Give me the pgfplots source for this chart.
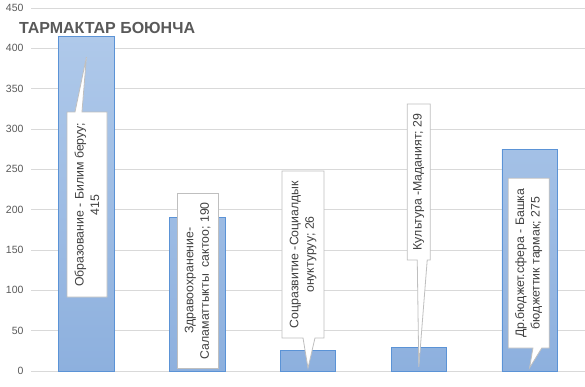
\documentclass[border=0pt]{standalone}
\usepackage{fontspec}
\setmainfont{Liberation Sans}
\usepackage{pgfplots}
\pgfplotsset{compat=1.18}
\definecolor{gridc}{HTML}{D9D9D9}
\definecolor{txt}{HTML}{595959}
\definecolor{lbl}{HTML}{404040}
\definecolor{bartop}{HTML}{AFC9EA}
\definecolor{barbot}{HTML}{8DB0DE}
\definecolor{barline}{HTML}{5B93D6}
\definecolor{callline}{HTML}{BFBFBF}
\begin{document}
\begin{tikzpicture}
\useasboundingbox (0pt,0pt) rectangle (585pt,386pt);
\begin{axis}[at={(31pt,15pt)}, anchor=south west, scale only axis,
  width=554pt, height=363pt,
  xmin=-0.5, xmax=4.5, ymin=0, ymax=450,
  ytick={0,50,...,450}, xtick=\empty,
  ymajorgrids, grid style={draw=gridc, line width=0.75pt},
  axis line style={draw=none}, major tick length=0pt,
  yticklabel style={font=\fontsize{10.5}{12}\selectfont, text=txt, xshift=-4pt},
  /pgf/number format/assume math mode=true,
  ybar, bar width=0.5, clip=false]
\addplot[draw=barline, line width=0.8pt, top color=bartop, bottom color=barbot]
  coordinates {(0,415) (1,190) (2,26) (3,29) (4,275)};
% callouts
\tikzset{cbox/.style={draw=callline, fill=white, line width=0.8pt},
  ctext/.style={rotate=90, align=center, text=lbl, font=\fontsize{12.3}{15.5}\selectfont}}
\draw[cbox] (axis cs:-0.175,321) -- (axis cs:-0.103,321) -- (axis cs:0,389) -- (axis cs:-0.04,321) -- (axis cs:0.186,321) -- (axis cs:0.186,91.7) -- (axis cs:-0.175,91.7) -- cycle;
\node[ctext] at (axis cs:0.005,206) {Образование - Билим беруу;\\415};
\draw[cbox] (axis cs:0.818,220.7) rectangle (axis cs:1.188,3.7);
\node[ctext] at (axis cs:1.003,112) {Здравоохранение-\\Саламаттыкты\ \ сактоо; 190};
\draw[cbox] (axis cs:1.765,247.9) -- (axis cs:2.144,247.9) -- (axis cs:2.144,40.9) -- (axis cs:2.063,40.9) -- (axis cs:2.0,3.7) -- (axis cs:1.955,40.9) -- (axis cs:1.765,40.9) -- cycle;
\node[ctext] at (axis cs:1.955,144.4) {Соцразвитие -Социалдык\\онуктуруу; 26};
\draw[cbox] (axis cs:2.895,331) -- (axis cs:3.103,331) -- (axis cs:3.103,137.6) -- (axis cs:3.076,137.6) -- (axis cs:3.0,5) -- (axis cs:2.986,137.6) -- (axis cs:2.895,137.6) -- cycle;
\node[ctext] at (axis cs:2.999,234.3) {Культура -Маданият; 29};
\draw[cbox] (axis cs:3.807,239) -- (axis cs:4.177,239) -- (axis cs:4.177,28.5) -- (axis cs:4.11,28.5) -- (axis cs:4.0,4) -- (axis cs:4.03,28.5) -- (axis cs:3.807,28.5) -- cycle;
\node[ctext] at (axis cs:3.992,133.7) {Др.бюджет.сфера - Башка\\бюджеттик тармак; 275};
\end{axis}
\node[anchor=west, font=\fontsize{16}{19}\selectfont\bfseries, text=txt] at (15.5pt,358pt) {ТАРМАКТАР БОЮНЧА};
\end{tikzpicture}
\end{document}
